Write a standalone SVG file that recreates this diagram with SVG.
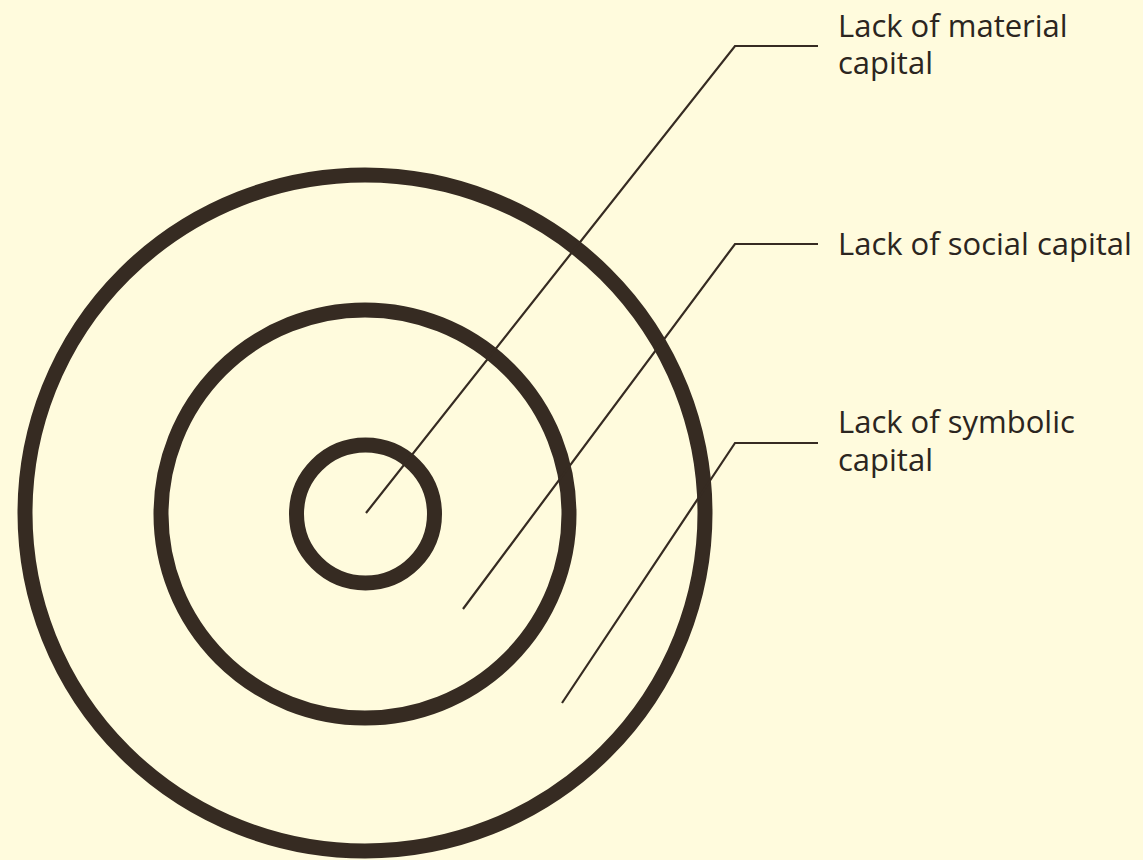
<svg xmlns="http://www.w3.org/2000/svg" width="1143" height="860" viewBox="0 0 1143 860">
<style>
.ring{fill:none;stroke:#362b22;stroke-width:15}
.lead{fill:none;stroke:#362b22;stroke-width:2.2;stroke-linejoin:miter}
.lbl{font-family:"Open Sans",Lato,sans-serif;font-size:31px;fill:#2b2520}
</style>
<rect width="1143" height="860" fill="#fffbdd"/>
<g id="outer"><ellipse class="ring" cx="365" cy="513" rx="340" ry="338"/></g>
<g id="middle"><circle class="ring" cx="365" cy="514" r="204"/></g>
<g id="inner"><circle class="ring" cx="365.5" cy="514" r="69"/></g>
<g id="connectors">
<polyline class="lead" points="366,513 735,46 818,46"/>
<polyline class="lead" points="463,609 735,244 818,244"/>
<polyline class="lead" points="562,703 735,443 818,443"/>
</g>
<g id="label-material"><text class="lbl" x="838" y="37">Lack of material</text><text class="lbl" x="838" y="74">capital</text></g>
<g id="label-social"><text class="lbl" x="838" y="255">Lack of social capital</text></g>
<g id="label-symbolic"><text class="lbl" x="838" y="433">Lack of symbolic</text><text class="lbl" x="838" y="471">capital</text></g>
</svg>
